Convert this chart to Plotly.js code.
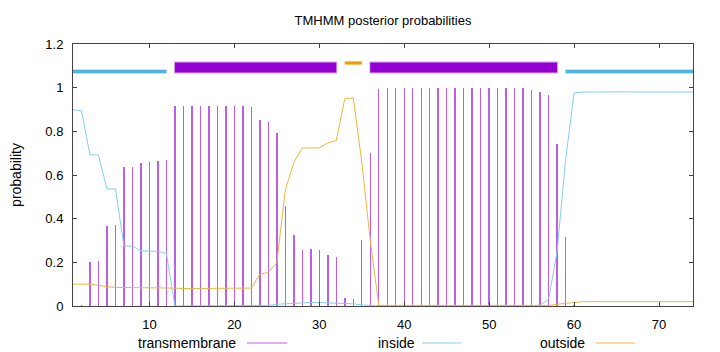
<!DOCTYPE html>
<html>
<head>
<meta charset="utf-8">
<script src="https://cdn.plot.ly/plotly-3.0.1.min.js"></script>
<style>html,body{margin:0;padding:0;background:#fff}#chart{width:720px;height:352px}</style>
</head>
<body>
<div id="chart"></div>
<script>
// residue positions
const positions = [1,2,3,4,5,6,7,8,9,10,11,12,13,14,15,16,17,18,19,20,21,22,23,24,25,26,27,28,29,30,31,32,33,34,35,36,37,38,39,40,41,42,43,44,45,46,47,48,49,50,51,52,53,54,55,56,57,58,59,60,61,62,63,64,65,66,67,68,69,70,71,72,73,74];

// posterior probability: transmembrane
const transmembrane = [0.0,0.003,0.201,0.206,0.367,0.371,0.635,0.636,0.655,0.658,0.664,0.670,0.915,0.915,0.915,0.915,0.915,0.915,0.915,0.915,0.915,0.912,0.854,0.842,0.793,0.460,0.326,0.257,0.260,0.257,0.234,0.226,0.036,0.032,0.303,0.701,0.995,0.999,0.999,0.999,0.999,0.999,0.999,0.999,0.999,0.999,0.999,0.999,0.999,0.999,0.999,0.999,0.999,0.997,0.990,0.981,0.965,0.742,0.315,0.004,0,0,0,0,0,0,0,0,0,0,0,0,0,0];

// posterior probability: inside
const inside = [0.899,0.894,0.692,0.692,0.536,0.536,0.275,0.274,0.253,0.252,0.250,0.241,0.0,0.0,0.0,0.0,0.0,0.0,0.0,0.0,0.0,0.0,0.001,0.003,0.008,0.010,0.014,0.016,0.016,0.016,0.015,0.014,0.013,0.010,0.005,0.002,0.0,0.0,0.0,0.0,0.0,0.0,0.0,0.0,0.0,0.0,0.0,0.0,0.0,0.0,0.0,0.0,0.0,0.0,0.001,0.004,0.030,0.250,0.670,0.975,0.980,0.980,0.981,0.982,0.982,0.981,0.980,0.980,0.980,0.980,0.980,0.980,0.980,0.980];

// posterior probability: outside
const outside = [0.100,0.100,0.100,0.095,0.088,0.085,0.085,0.085,0.085,0.082,0.082,0.082,0.082,0.080,0.080,0.080,0.080,0.080,0.080,0.080,0.080,0.082,0.145,0.154,0.198,0.532,0.658,0.724,0.724,0.724,0.747,0.758,0.949,0.954,0.660,0.300,0.003,0.003,0.003,0.003,0.003,0.003,0.003,0.003,0.003,0.003,0.003,0.003,0.003,0.003,0.003,0.003,0.003,0.003,0.003,0.003,0.003,0.008,0.012,0.018,0.020,0.020,0.020,0.020,0.020,0.020,0.020,0.020,0.020,0.020,0.020,0.020,0.020,0.020];

// predicted topology segments [start, end]
const insideSegments = [[1, 12], [59, 74]];
const tmSegments = [[13, 32], [36, 58]];
const outsideSegments = [[33, 35]];

const xTicks = [10, 20, 30, 40, 50, 60, 70];
const yTicks = [0, 0.2, 0.4, 0.6, 0.8, 1, 1.2];
const yTickLabels = ['0', '0.2', '0.4', '0.6', '0.8', '1', '1.2'];

const FONT = 'Liberation Sans, Arial, sans-serif';
const C_TM = '#bb5ee8', C_IN = '#86cdef', C_OUT = '#f2b53c';

function segTraces(segs, y, color, width, pad) {
  return segs.map(s => ({
    type: 'scatter', mode: 'lines', x: [s[0] - pad, s[1] + pad], y: [y, y],
    line: {color: color, width: width}, hoverinfo: 'skip', showlegend: false, cliponaxis: false
  }));
}

const traces = [
  {type: 'bar', x: positions, y: transmembrane, width: 0.17,
   marker: {color: C_TM, line: {width: 0}}, showlegend: false, name: 'transmembrane'},
  {type: 'scatter', mode: 'lines', x: positions, y: inside,
   line: {color: C_IN, width: 1}, showlegend: false, name: 'inside'},
  {type: 'scatter', mode: 'lines', x: positions, y: outside,
   line: {color: C_OUT, width: 1}, showlegend: false, name: 'outside'},
  ...segTraces(insideSegments, 1.074, '#a9dcf3', 4.5, 0),
  ...segTraces(insideSegments, 1.074, '#4fb3e3', 3, 0),
  ...segTraces(tmSegments, 1.092, '#dca8f4', 12, 0.1),
  ...segTraces(tmSegments, 1.092, '#9400d3', 10, 0),
  ...segTraces(outsideSegments, 1.113, '#f5d48a', 4, 0),
  ...segTraces(outsideSegments, 1.113, '#e69f00', 2.5, 0)
];

// legend (text then sample line, as in the original)
const legendItems = [
  {label: 'transmembrane', color: C_TM, textEnd: 238, lineStart: 247, lineEnd: 287},
  {label: 'inside', color: C_IN, textEnd: 417, lineStart: 422, lineEnd: 461},
  {label: 'outside', color: C_OUT, textEnd: 587, lineStart: 596, lineEnd: 635}
];
const L = 73, R = 27, T = 44, B = 46, W = 720, H = 352;
const pw = W - L - R, ph = H - T - B;
const px = v => (v - L) / pw, py = v => (H - B - v) / ph;
const legY = 343;

const annotations = legendItems.map(it => ({
  xref: 'paper', yref: 'paper', x: px(it.textEnd), y: py(legY), xanchor: 'right', yanchor: 'middle',
  text: it.label, showarrow: false, font: {family: FONT, size: 14, color: '#000'}
}));
const shapes = legendItems.map(it => ({
  type: 'line', xref: 'paper', yref: 'paper', x0: px(it.lineStart), x1: px(it.lineEnd),
  y0: py(legY), y1: py(legY), line: {color: it.color, width: 1}
}));

const layout = {
  width: W, height: H,
  margin: {l: L, r: R, t: T, b: B},
  paper_bgcolor: '#fff', plot_bgcolor: '#fff',
  font: {family: FONT, size: 13, color: '#000'},
  title: {text: 'TMHMM posterior probabilities', xref: 'paper', x: 0.5, xanchor: 'center',
          yref: 'container', y: 1 - 20/H, yanchor: 'middle',
          font: {family: FONT, size: 13, color: '#000'}},
  showlegend: false,
  bargap: 0,
  xaxis: {range: [1, 74], tickvals: xTicks, ticktext: xTicks.map(String), ticks: 'inside', ticklen: 4,
          tickcolor: '#444', showline: true, linecolor: '#444', linewidth: 1, mirror: 'ticks',
          showgrid: false, zeroline: false, ticklabelstandoff: 6, tickfont: {family: FONT, size: 13}},
  yaxis: {range: [0, 1.2], tickvals: yTicks, ticktext: yTickLabels, ticks: 'inside', ticklen: 4,
          tickcolor: '#444', showline: true, linecolor: '#444', linewidth: 1, mirror: 'ticks',
          showgrid: false, zeroline: false, ticklabelstandoff: 6, tickfont: {family: FONT, size: 13},
          title: {text: 'probability', font: {family: FONT, size: 14}, standoff: 20}},
  annotations: annotations,
  shapes: shapes
};

Plotly.newPlot('chart', traces, layout, {staticPlot: true, displayModeBar: false});
</script>
</body>
</html>
